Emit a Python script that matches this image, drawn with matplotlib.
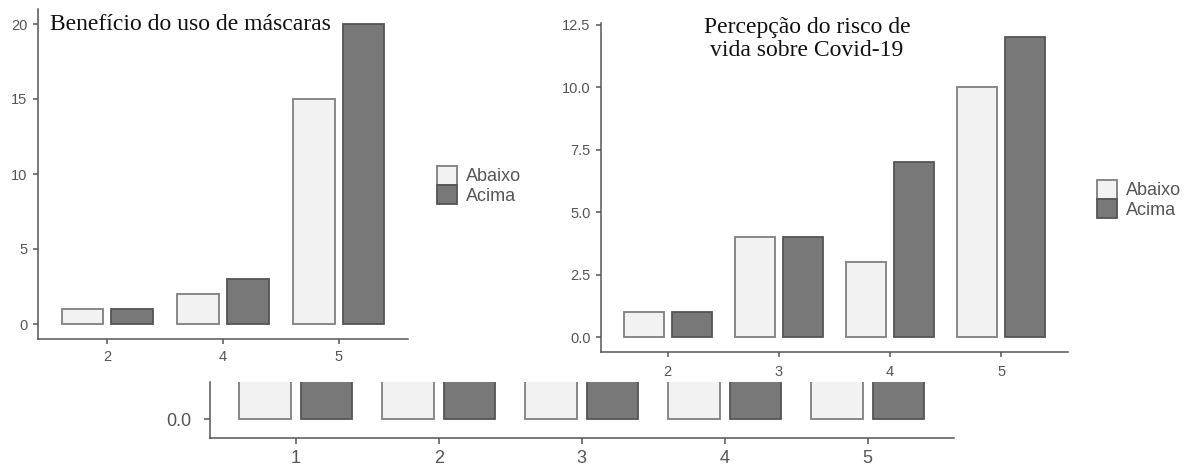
import numpy as np
import matplotlib.pyplot as plt
from matplotlib.patches import Patch

# painel 1: benefício do uso de máscaras
mask_cats = ["2", "4", "5"]
mask_abaixo = [1, 2, 15]
mask_acima = [1, 3, 20]

# painel 2: percepção do risco de vida
risk_cats = ["2", "3", "4", "5"]
risk_abaixo = [1, 4, 3, 10]
risk_acima = [1, 4, 7, 12]

# painel de baixo (cortado na imagem, alturas acima do corte não visíveis)
low_cats = ["1", "2", "3", "4", "5"]
low_abaixo = [3, 3, 3, 3, 3]
low_acima = [3, 3, 3, 3, 3]

groups = ["Abaixo", "Acima"]

C_LIGHT = "#F2F2F2"
C_DARK = "#787878"
E_LIGHT = "#7F7F7F"
E_DARK = "#555555"
AXC = "#555555"
TXT = "#555555"

W, H = 1197, 466
fig = plt.figure(figsize=(W / 100, H / 100), dpi=100)


def px_axes(left, top, right, bottom):
    return fig.add_axes([left / W, 1 - bottom / H, (right - left) / W, (bottom - top) / H])


def draw(ax, cats, a, b, ylim, yticks, ylabels, fs, tlen, pad_x, pad_y):
    x = np.arange(len(cats))
    ax.bar(x - 0.215, a, width=0.36, color=C_LIGHT, edgecolor=E_LIGHT, linewidth=1.3)
    ax.bar(x + 0.215, b, width=0.36, color=C_DARK, edgecolor=E_DARK, linewidth=1.3)
    ax.set_xlim(-0.6, len(cats) - 0.4)
    ax.set_ylim(*ylim)
    ax.set_xticks(x)
    ax.set_xticklabels(cats)
    ax.set_yticks(yticks)
    ax.set_yticklabels(ylabels)
    for s in ["top", "right"]:
        ax.spines[s].set_visible(False)
    for s in ["left", "bottom"]:
        ax.spines[s].set_color(AXC)
        ax.spines[s].set_linewidth(1.1)
    ax.tick_params(axis="both", colors=AXC, labelcolor=TXT, labelsize=fs,
                   length=tlen, width=1.1)
    ax.tick_params(axis="x", pad=pad_x)
    ax.tick_params(axis="y", pad=pad_y)
    for t in ax.get_xticklabels() + ax.get_yticklabels():
        t.set_fontfamily("Liberation Sans")


ax1 = px_axes(38, 9, 408, 339)
draw(ax1, mask_cats, mask_abaixo, mask_acima, (-1, 21),
     [0, 5, 10, 15, 20], ["0", "5", "10", "15", "20"], 10.5, 3.5, 4.5, 4)

ax2 = px_axes(601, 22.5, 1068, 352)
draw(ax2, risk_cats, risk_abaixo, risk_acima, (-0.6, 12.6),
     [0, 2.5, 5, 7.5, 10, 12.5], ["0.0", "2.5", "5.0", "7.5", "10.0", "12.5"], 10.5, 3.5, 6, 4)

ax3 = px_axes(210, 382, 953.6, 438)
draw(ax3, low_cats, low_abaixo, low_acima, (-0.6, 1.17),
     [0], ["0.0"], 13, 4.5, 4, 9)

# títulos
fig.text(50 / W, 1 - 25 / H, "Benefício do uso de máscaras", family="Liberation Serif",
         fontsize=17, ha="left", va="center", color="#111111")
fig.text(807 / W, 1 - 39 / H, "Percepção do risco de\nvida sobre Covid-19",
         family="Liberation Serif", fontsize=17, ha="center", va="center",
         color="#111111", linespacing=1.15)

# legendas
handles = [Patch(facecolor=C_LIGHT, edgecolor=E_LIGHT, linewidth=1.3),
           Patch(facecolor=C_DARK, edgecolor=E_DARK, linewidth=1.3)]
for lx, ly in [(437, 166), (1097, 180)]:
    fig.legend(handles, groups, loc="upper left", bbox_to_anchor=(lx / W, 1 - ly / H),
               frameon=False, borderpad=0, borderaxespad=0, handlelength=1.1,
               handleheight=1.2, labelspacing=0, handletextpad=0.5,
               prop={"family": "Liberation Sans", "size": 13}, labelcolor=TXT)

fig.savefig("out.png", dpi=100)
